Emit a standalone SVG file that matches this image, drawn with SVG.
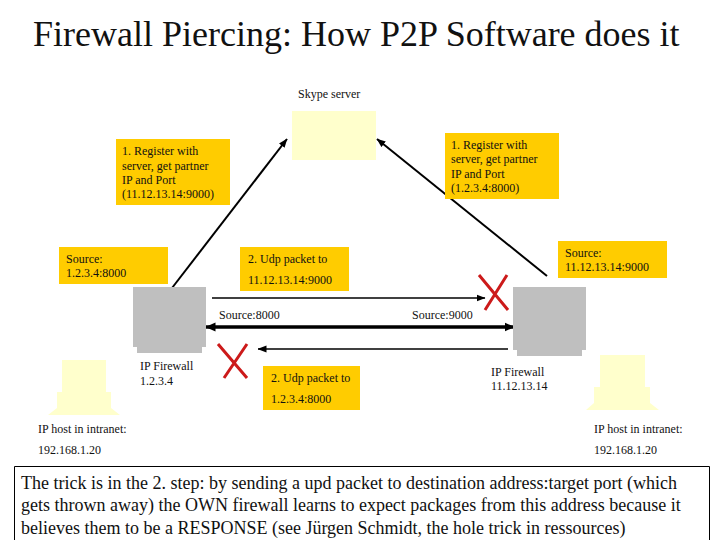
<svg xmlns="http://www.w3.org/2000/svg" width="720" height="540" viewBox="0 0 720 540">
<style>
text{font-family:"Liberation Serif","Times New Roman",serif;fill:#111;font-size:12px}
.title{font-size:36px}
.note{font-size:18px}
.lab{fill:#ffcc00}
.srv{fill:#ffffcc}
.fw{fill:#bfbfbf}
.ln{stroke:#000;fill:none}
.x{stroke:#cc1a1a;stroke-width:3;fill:none}
</style>
<defs>
<marker id="a" markerUnits="userSpaceOnUse" markerWidth="9" markerHeight="8" refX="8.500" refY="4" orient="auto"><path d="M0 0.500L9 4L0 7.500Z" fill="#000"/></marker>
<marker id="b" markerUnits="userSpaceOnUse" markerWidth="10" markerHeight="10" refX="9.500" refY="5" orient="auto-start-reverse"><path d="M0 0.500L10 5L0 9.500Z" fill="#000"/></marker>
</defs>
<rect width="720" height="540" fill="#fff"/>
<text class="title" x="33" y="46">Firewall Piercing: How P2P Software does it</text>
<g id="connectors">
<path class="ln" stroke-width="2" marker-end="url(#a)" d="M172 288L287 139"/>
<path class="ln" stroke-width="2" marker-end="url(#a)" d="M547 276L377 139"/>
<path class="ln" stroke-width="1.600" marker-end="url(#a)" d="M212 298L485 298"/>
<path class="ln" stroke-width="3.500" marker-start="url(#b)" marker-end="url(#b)" d="M206 327L514 327"/>
<path class="ln" stroke-width="1.600" marker-end="url(#a)" d="M508 349L258 349"/>
</g>
<g id="skype-server"><rect class="srv" x="292" y="111" width="84" height="49"/><text x="298" y="98">Skype server</text></g>
<g id="note-left"><rect class="lab" x="116" y="139" width="114" height="66"/><text x="122" y="155">1. Register with</text><text x="122" y="169.500">server, get partner</text><text x="122" y="184">IP and Port</text><text x="122" y="198">(11.12.13.14:9000)</text></g>
<g id="note-right"><rect class="lab" x="445" y="133" width="114" height="66"/><text x="451" y="149">1. Register with</text><text x="451" y="163">server, get partner</text><text x="451" y="178">IP and Port</text><text x="451" y="192">(1.2.3.4:8000)</text></g>
<g id="source-left"><rect class="lab" x="59" y="247" width="109" height="37"/><text x="66" y="263">Source:</text><text x="66" y="277">1.2.3.4:8000</text></g>
<g id="source-right"><rect class="lab" x="558" y="241" width="109" height="37"/><text x="565" y="257">Source:</text><text x="565" y="271">11.12.13.14:9000</text></g>
<g id="udp-top"><rect class="lab" x="240" y="247" width="109" height="44"/><text x="248" y="263">2. Udp packet to</text><text x="248" y="284">11.12.13.14:9000</text></g>
<g id="udp-bottom"><rect class="lab" x="263" y="366" width="97" height="44"/><text x="271" y="382">2. Udp packet to</text><text x="271" y="403">1.2.3.4:8000</text></g>
<text x="219" y="319">Source:8000</text>
<text x="412" y="319">Source:9000</text>
<g id="firewall-left"><path class="fw" d="M133 287H206V347H202V353H137V347H133Z"/><text x="140" y="370">IP Firewall</text><text x="140" y="385">1.2.3.4</text></g>
<g id="firewall-right"><path class="fw" d="M513 287H586V350H582V356H517V350H513Z"/><text x="491" y="376">IP Firewall</text><text x="491" y="390">11.12.13.14</text></g>
<g id="host-left"><path class="srv" d="M62 360H106V392H111V408L120 415H48L57 408V392H62Z"/><text x="38" y="433">IP host in intranet:</text><text x="38" y="454">192.168.1.20</text></g>
<g id="host-right"><path class="srv" d="M600 355H645V387H650V403L659 410H586L594 403V387H600Z"/><text x="594" y="433">IP host in intranet:</text><text x="594" y="454">192.168.1.20</text></g>
<g id="x-left"><path class="x" d="M218 344L247 378M247 344L224 378"/></g>
<g id="x-right"><path class="x" d="M479 275L508 310M507 275L485 310"/></g>
<g id="note-box"><path d="M14.500 541V466.500H709.500V541" fill="#fff" stroke="#000"/>
<text class="note" x="21" y="489">The trick is in the 2. step: by sending a upd packet to destination address:target port (which</text>
<text class="note" x="21" y="511">gets thrown away) the OWN firewall learns to expect packages from this address because it</text>
<text class="note" x="21" y="534">believes them to be a RESPONSE (see Jürgen Schmidt, the hole trick in ressources)</text></g>
</svg>
